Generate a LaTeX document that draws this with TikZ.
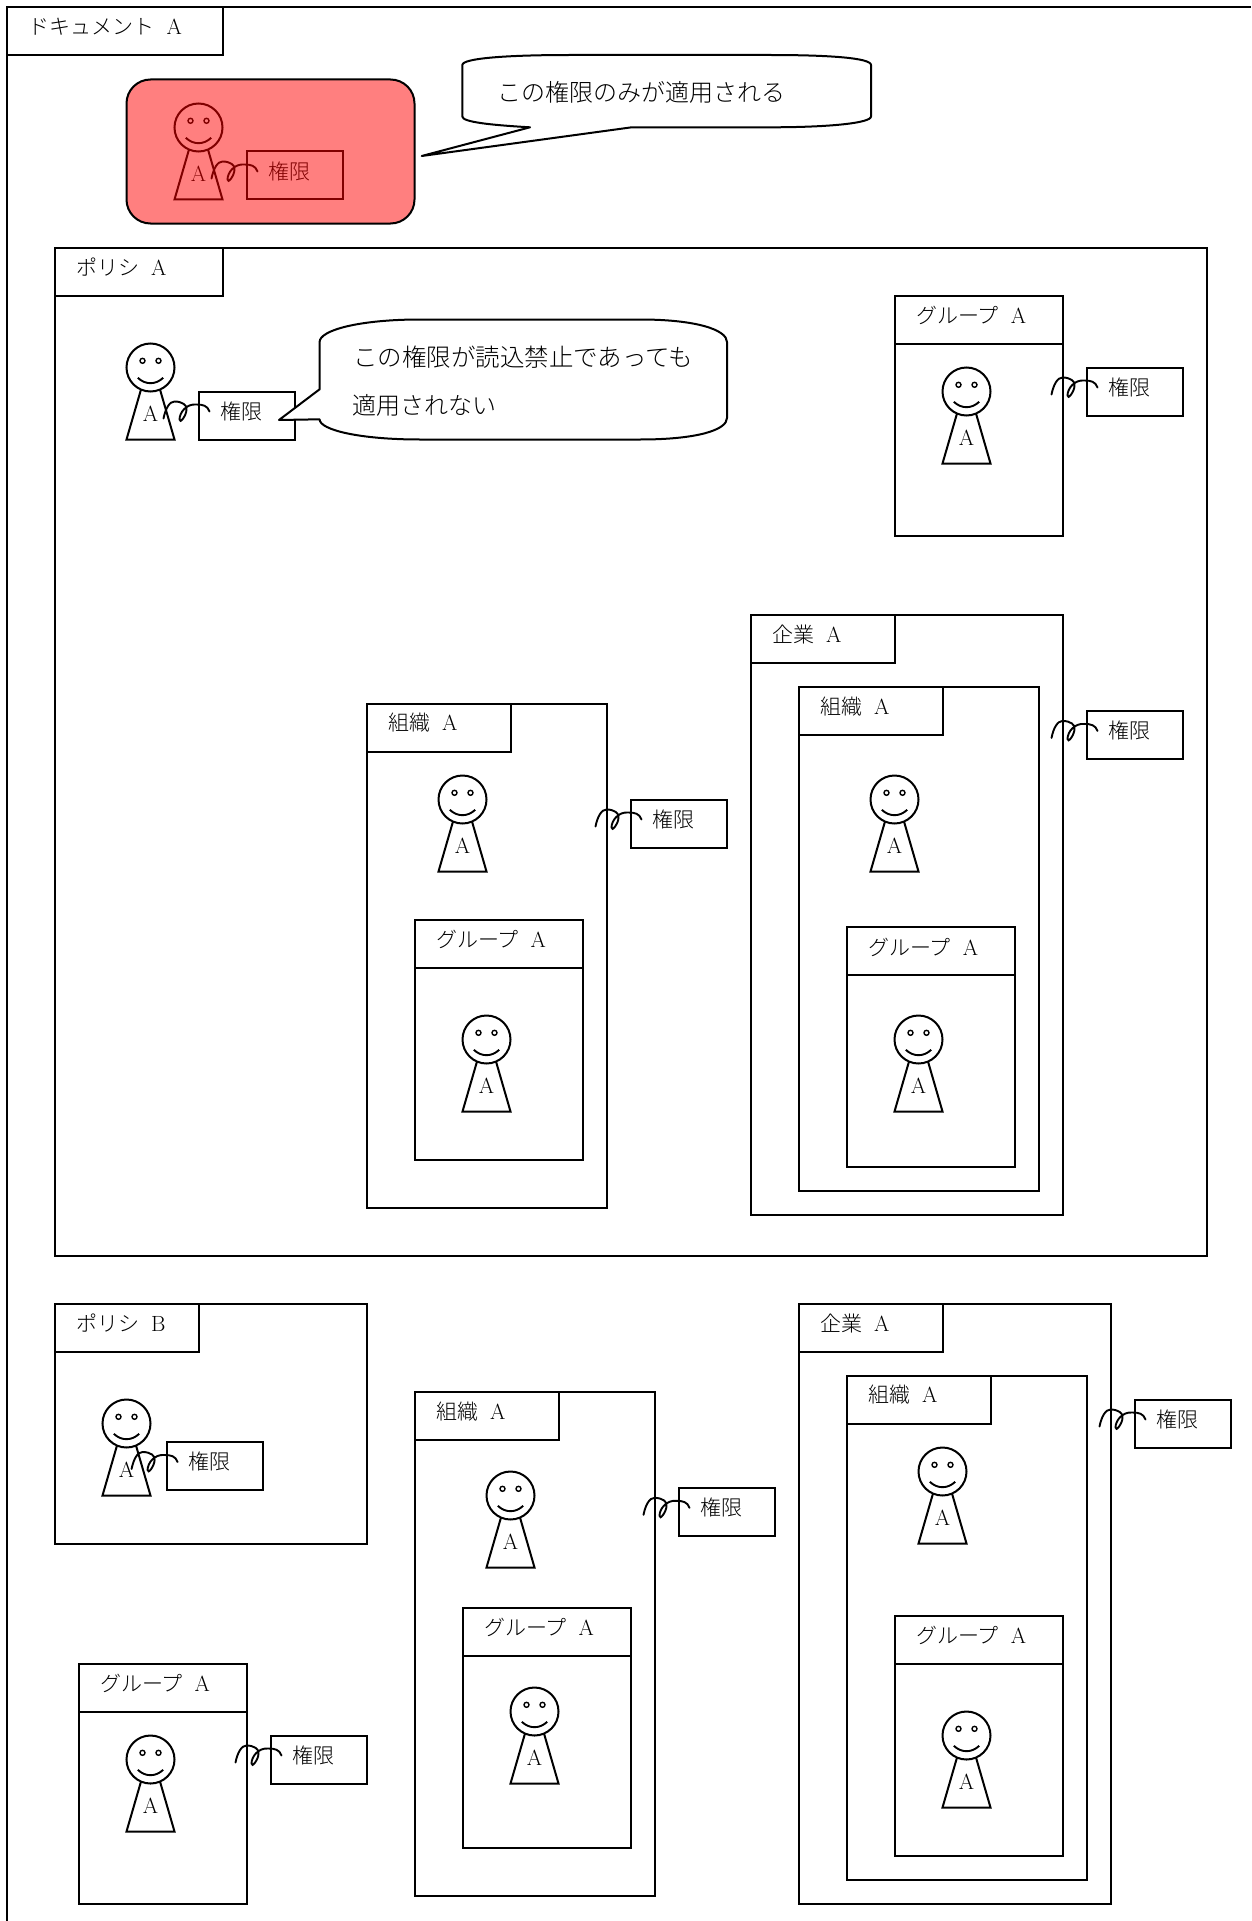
\documentclass[tikz,border=0pt]{standalone}
\usepackage{fontspec}
\newfontfamily\cjk{Noto Sans CJK JP Light}
\usetikzlibrary{calc}
\tikzset{
  ln/.style={line width=2pt,draw=black,line join=miter},
  framebox/.style={ln,rectangle,inner sep=0pt,outer sep=0pt},
  tabbox/.style={ln,rectangle,inner sep=0pt,outer sep=0pt,minimum height=48pt},
  txt/.style={inner sep=0pt,outer sep=0pt,anchor=west,font=\fontsize{21}{25}\selectfont,text=black},
  bigtxt/.style={inner sep=0pt,outer sep=0pt,anchor=west,font=\fontsize{24}{28}\selectfont,text=black},
  headc/.style={ln,circle,inner sep=0pt,outer sep=0pt,minimum size=48pt},
  eye/.style={line width=1.4pt,draw=black},
  personlabel/.style={inner sep=0pt,outer sep=0pt,font=\fontsize{22}{26}\selectfont,text=black},
  bubble/.style={ln,fill=white,line join=round},
  squig/.style={line width=1.9pt,draw=black,line cap=round},
  permbox/.style={ln,rectangle,inner sep=0pt,outer sep=0pt,minimum width=96pt,minimum height=48pt,anchor=north west}
}
% name, i0, j0, i1, j1, tab width in cells, Japanese label, Latin letter
\newcommand{\frm}[8]{%
  \pgfmathsetmacro\fw{(#4-#2)*24}%
  \pgfmathsetmacro\fh{(#5-#3)*24}%
  \pgfmathsetmacro\tw{#6*24}%
  \node[framebox,minimum width=\fw pt,minimum height=\fh pt,anchor=north west] (#1) at (#2,#3) {};
  \node[tabbox,minimum width=\tw pt,anchor=north west] (#1-tab) at (#1.north west) {};
  \node[txt] (#1-label) at ([shift={(21.5pt,4.5pt)}]#1-tab.west) {{\cjk #7}\hspace{12pt}{\fontsize{22}{26}\selectfont #8}};
}
% name, i, j (top-left of the head's box)
\newcommand{\person}[3]{%
  \node[headc] (#1) at ({#2+1},{#3+1}) {};
  \draw[ln] ([shift={(-9.5pt,-22pt)}]#1.center) -- ({#2},{#3+4}) -- ({#2+2},{#3+4}) -- ([shift={(9.5pt,-22pt)}]#1.center);
  \node[personlabel] (#1-a) at ({#2+1},{#3+2.92}) {A};
  \begin{scope}[shift={(#1.center)},x=1pt,y=1pt]
    \draw[eye] (-8,6.7) circle (2.5);
    \draw[eye] (8,6.7) circle (2.5);
    \draw[line width=1.9pt] (-12.7,-10.3) .. controls (-5,-17.5) and (5,-17.5) .. (12.7,-10.3);
  \end{scope}
}
% name, i, j (top-left of the box)
\newcommand{\perm}[3]{%
  \node[permbox] (#1) at (#2,#3) {};
  \node[txt] (#1-label) at ([shift={(21.5pt,4.5pt)}]#1.west) {\cjk 権限};
  \begin{scope}[shift={(#1.north west)},x=1pt,y=-1pt]
    \draw[squig] (-35,27) .. controls (-33,17) and (-29,10) .. (-24,10)
      .. controls (-16,10) and (-11,14) .. (-12,18)
      .. controls (-12,24) and (-19,33) .. (-19,28)
      .. controls (-19,21) and (-12,12) .. (-2,13)
      .. controls (4,13) and (9,14) .. (11,20);
  \end{scope}
}
\begin{document}
\begin{tikzpicture}[x=24pt,y=-24pt]
\useasboundingbox (-0.27083,-0.3125) rectangle (51.85417,79.72917);
\fill[white] (-0.27083,-0.3125) rectangle (51.85417,79.72917);

% Document frame (runs off the page to the right and bottom)
\coordinate (docBL) at (0,79.72917);
\coordinate (docTL) at (0,0);
\coordinate (docTR) at (51.85417,0);
\draw[ln] (docBL) -- (docTL) -- (docTR);
\node[tabbox,minimum width=216pt,anchor=north west] (doc-tab) at (docTL) {};
\node[txt] (doc-label) at ([shift={(22pt,4.5pt)}]doc-tab.west) {{\cjk ドキュメント}\hspace{12pt}{\fontsize{22}{26}\selectfont A}};

% Highlighted person and permission, with a translucent red block over them
\person{redp}{7}{4}
\perm{redperm}{10}{6}
\node[rectangle,draw=black,line width=2pt,fill=red,fill opacity=.5,draw opacity=1,rounded corners=24pt,
  minimum width=288pt,minimum height=144pt,inner sep=0pt,outer sep=0pt,anchor=north west] (redblock) at (5,3) {};

\begin{scope}[shift={(-6.5pt,7.5pt)}]
% Bubble 1
\draw[bubble] (462.3pt,-65pt) .. controls (462.3pt,-58pt) and (510pt,-55pt) .. (570pt,-55pt)
  -- (770pt,-55pt) .. controls (830pt,-55pt) and (871pt,-58pt) .. (871pt,-65pt)
  -- (871pt,-116.5pt) .. controls (871pt,-123pt) and (830pt,-127.3pt) .. (770pt,-127.3pt)
  -- (631.7pt,-127.3pt) -- (421.7pt,-156pt) -- (530pt,-127.3pt)
  .. controls (490pt,-125pt) and (462.3pt,-122pt) .. (462.3pt,-116.5pt) -- cycle;
\node[bigtxt] (b1-text) at (497pt,-92.5pt) {\cjk この権限のみが適用される};
\end{scope}

% Policy A
\frm{polA}{2}{10}{50}{52}{7}{ポリシ}{A}
\person{polAp}{5}{14}
\perm{polAperm}{8}{16}
\begin{scope}[shift={(-6.5pt,7.5pt)}]
\draw[bubble] (319.6pt,-342pt) .. controls (319.6pt,-330pt) and (360pt,-319.5pt) .. (420pt,-319.5pt)
  -- (640pt,-319.5pt) .. controls (697pt,-319.5pt) and (727pt,-330pt) .. (727pt,-342pt)
  -- (727pt,-418pt) .. controls (727pt,-430pt) and (697pt,-439.5pt) .. (640pt,-439.5pt)
  -- (420pt,-439.5pt) .. controls (360pt,-439.5pt) and (319.6pt,-430pt) .. (319.6pt,-419.3pt)
  -- (279pt,-420pt) -- (319.6pt,-389.3pt) -- cycle;
\node[bigtxt,font=\fontsize{24.5}{28}\selectfont] (b2-text1) at (353pt,-357.5pt) {\cjk この権限が読込禁止であっても};
\node[bigtxt] (b2-text2) at (352pt,-405.5pt) {\cjk 適用されない};
\end{scope}

\frm{grpTR}{37}{12}{44}{22}{7}{グループ}{A}
\person{grpTRp}{39}{15}
\perm{grpTRperm}{45}{15}

\frm{orgM}{15}{29}{25}{50}{6}{組織}{A}
\person{orgMp}{18}{32}
\frm{orgMg}{17}{38}{24}{48}{7}{グループ}{A}
\person{orgMgp}{19}{42}
\perm{orgMperm}{26}{33}

\frm{entM}{31}{25.31}{44}{50.31}{6}{企業}{A}
\frm{entMo}{33}{28.31}{43}{49.31}{6}{組織}{A}
\person{entMop}{36}{32}
\frm{entMg}{35}{38.33}{42}{48.33}{7}{グループ}{A}
\person{entMgp}{37}{42}
\perm{entMperm}{45}{29.31}

% Policy B
\frm{polB}{2}{54}{15}{64}{6}{ポリシ}{B}
\person{polBp}{4}{58}
\perm{polBperm}{6.67}{59.77}

% Group, bottom left
\frm{grpBL}{3}{69}{10}{79}{7}{グループ}{A}
\person{grpBLp}{5}{72}
\perm{grpBLperm}{11}{72}

% Organisation, bottom middle
\frm{orgB}{17}{57.68}{27}{78.68}{6}{組織}{A}
\person{orgBp}{20}{61}
\frm{orgBg}{19}{66.68}{26}{76.68}{7}{グループ}{A}
\person{orgBgp}{21}{70}
\perm{orgBperm}{28}{61.68}

% Enterprise, bottom right
\frm{entB}{33}{54}{46}{79}{6}{企業}{A}
\frm{entBo}{35}{57}{45}{78}{6}{組織}{A}
\person{entBop}{38}{60}
\frm{entBg}{37}{67}{44}{77}{7}{グループ}{A}
\person{entBgp}{39}{71}
\perm{entBperm}{47}{58}
\end{tikzpicture}
\end{document}
